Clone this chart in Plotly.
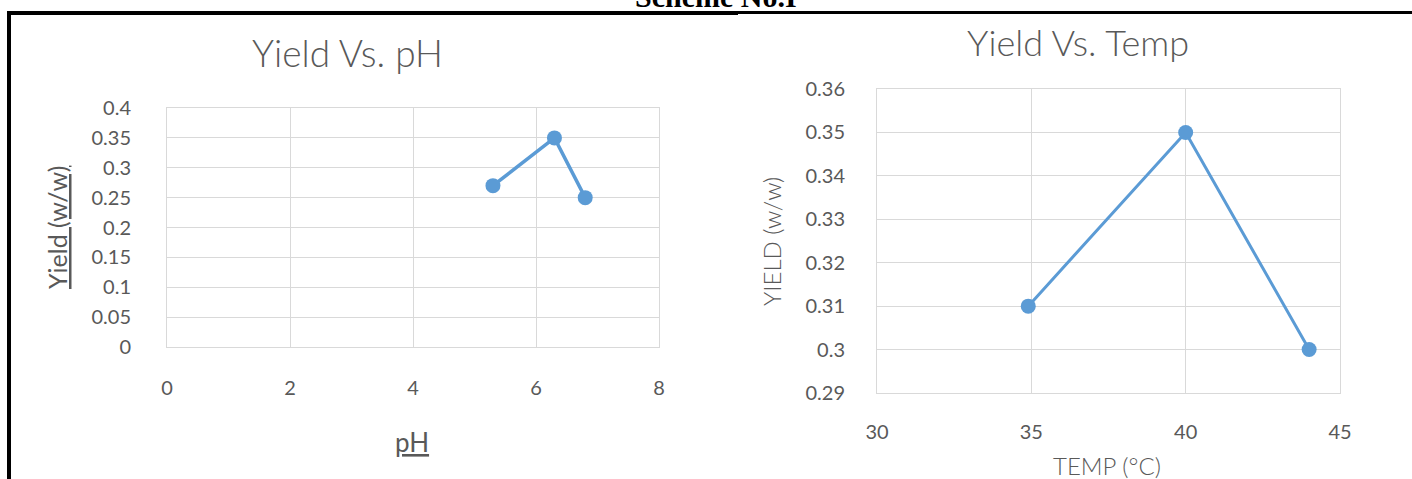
import plotly.graph_objects as go

W, H = 1412, 479

# ---- data ----
ph_values = [5.3, 6.3, 6.8]
ph_yield = [0.27, 0.35, 0.25]

temp_values = [34.9, 40, 44]
temp_yield = [0.31, 0.35, 0.30]

ph_xticks = [0, 2, 4, 6, 8]
ph_yticks = [0, 0.05, 0.1, 0.15, 0.2, 0.25, 0.3, 0.35, 0.4]
ph_ytick_text = ["0", "0.05", "0.1", "0.15", "0.2", "0.25", "0.3", "0.35", "0.4"]

temp_xticks = [30, 35, 40, 45]
temp_yticks = [0.29, 0.30, 0.31, 0.32, 0.33, 0.34, 0.35, 0.36]
temp_ytick_text = ["0.29", "0.3", "0.31", "0.32", "0.33", "0.34", "0.35", "0.36"]

# ---- style ----
BLUE = "#5b9bd5"
GRID = "#d9d9d9"
TXT = "#595959"
FONT = "Lato"


def px_x(p):
    return p / W


def px_y(p):
    return 1 - p / H


fig = go.Figure()
fig.add_trace(go.Scatter(x=ph_values, y=ph_yield, mode="lines+markers",
                         line=dict(color=BLUE, width=3.5),
                         marker=dict(color=BLUE, size=15),
                         xaxis="x", yaxis="y", showlegend=False))
fig.add_trace(go.Scatter(x=temp_values, y=temp_yield, mode="lines+markers",
                         line=dict(color=BLUE, width=3),
                         marker=dict(color=BLUE, size=15),
                         xaxis="x2", yaxis="y2", showlegend=False))

axis_common = dict(showgrid=True, gridcolor=GRID, gridwidth=1,
                   showline=True, linecolor=GRID, linewidth=1, mirror=True,
                   zeroline=False, ticks="", fixedrange=True, automargin=False,
                   tickfont=dict(family=FONT, size=20, color=TXT))

fig.update_layout(
    width=W, height=H, autosize=False,
    margin=dict(l=0, r=0, t=0, b=0, pad=0, autoexpand=False),
    paper_bgcolor="white", plot_bgcolor="white",
    xaxis=dict(axis_common, domain=[px_x(167), px_x(659)], range=[0, 8],
               tickvals=ph_xticks, anchor="y", ticklabelstandoff=23),
    yaxis=dict(axis_common, domain=[px_y(347), px_y(108)], range=[0, 0.4],
               tickvals=ph_yticks, ticktext=ph_ytick_text, anchor="x",
               ticklabelstandoff=31),
    xaxis2=dict(axis_common, domain=[px_x(877), px_x(1340)], range=[30, 45],
                tickvals=temp_xticks, anchor="y2", ticklabelstandoff=21),
    yaxis2=dict(axis_common, domain=[px_y(393), px_y(89)], range=[0.29, 0.36],
                tickvals=temp_yticks, ticktext=temp_ytick_text, anchor="x2",
                ticklabelstandoff=27),
)

ann = []


def add_text(text, x, y, size, angle=0, family=FONT, color=TXT, yanchor="middle",
             weight="normal"):
    ann.append(dict(text=text, x=px_x(x), y=px_y(y), xref="paper", yref="paper",
                    showarrow=False, xanchor="center", yanchor=yanchor,
                    textangle=angle,
                    font=dict(family=family, size=size, color=color, weight=weight)))


add_text("Yield Vs. pH", 347, 52, 37, weight=300)
add_text("Yield Vs. Temp", 1078, 42, 36, weight=300)
add_text("<u>Yield (w/w)</u>", 57, 228, 25, angle=-90)
add_text("YIELD (w/w)", 772, 242, 24, angle=-90, weight=300)
add_text("<u>pH</u>", 412, 442, 26)
add_text("TEMP (°C)", 1107, 465, 24, weight=300)
add_text("<b>Scheme No.I</b>", 716, 15, 30, family="Liberation Serif",
         color="black", yanchor="bottom")
fig.update_layout(annotations=ann)

# frame lines
frame = [
    (7, 738, 11, 15),
    (738, 1412, 11, 14),
    (7, 11, 11, 479),
]
shapes = []
for x0, x1, y0, y1 in frame:
    shapes.append(dict(type="rect", xref="paper", yref="paper",
                       x0=px_x(x0), x1=px_x(x1), y0=px_y(y1), y1=px_y(y0),
                       fillcolor="black", line=dict(width=0), layer="above"))
fig.update_layout(shapes=shapes)

fig.write_html("out.html", config={"displayModeBar": False, "responsive": False},
               post_script="document.body.style.margin='0px';document.body.style.overflow='hidden';")
